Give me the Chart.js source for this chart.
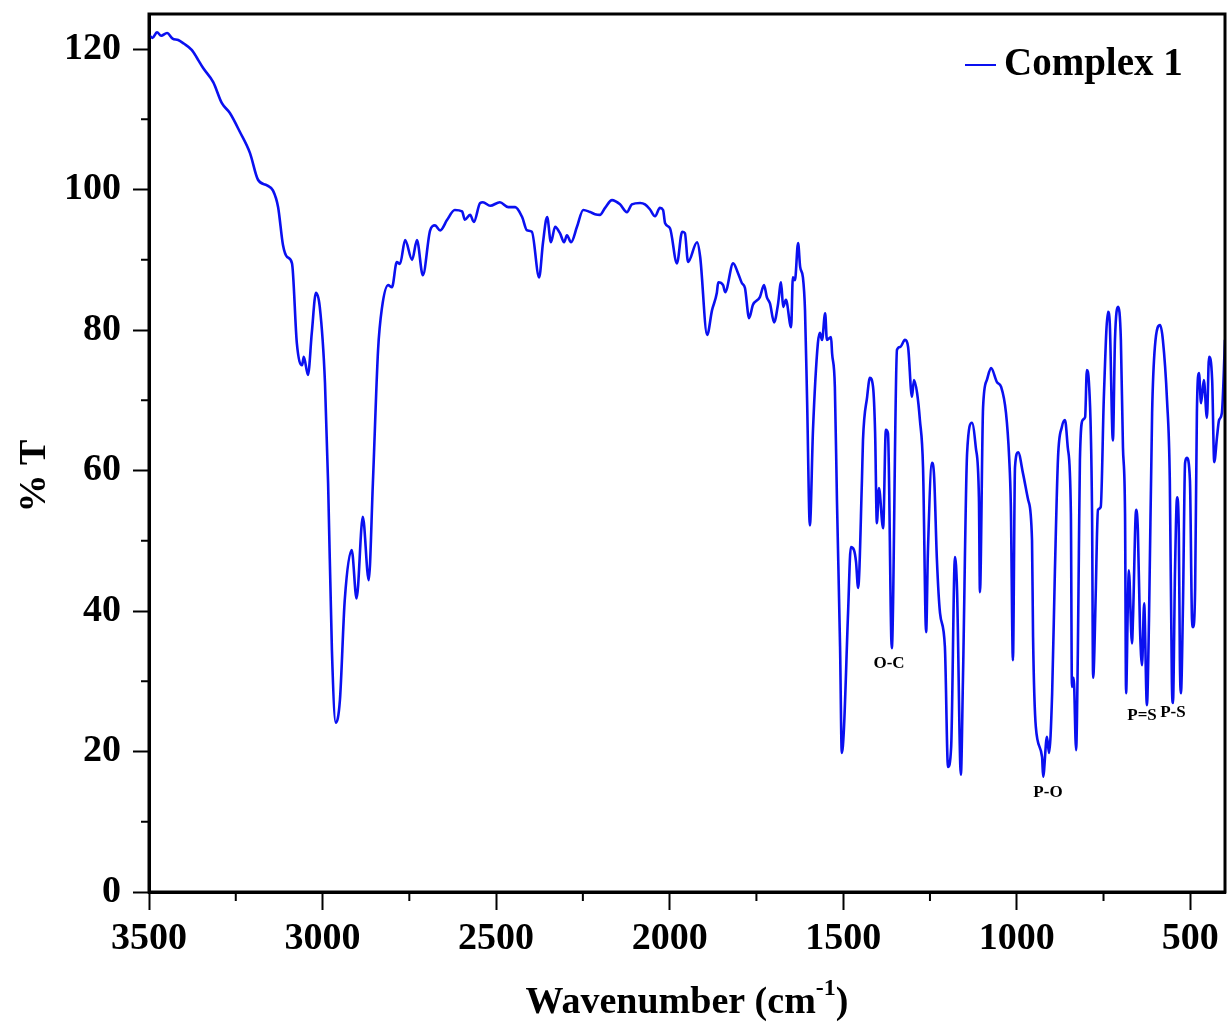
<!DOCTYPE html>
<html>
<head>
<meta charset="utf-8">
<script src="https://cdn.jsdelivr.net/npm/chart.js@4.4.0/dist/chart.umd.min.js"></script>
<style>
  html, body { margin: 0; padding: 0; background: #fff; }
</style>
</head>
<body>
<canvas id="ir" width="1228" height="1030"></canvas>
<script>
var seriesName = "Complex 1";

// wavenumber (cm-1) and %T
var wavenumber = [
  3500,3490,3477,3465,3448,3432,3416,3400,3377,3360,3344,3315,3290,3267,3238,3209,3186,3160,3143,3128,
  3114,3102,3088,3074,3059,3054,3042,3031,3019,3008,2993,2984,2973,2962,2950,2936,2916,2902,2884,2867,
  2855,2840,2829,2811,2800,2786,2777,2762,2742,2728,2711,2690,2676,2661,2641,2619,2598,2590,2575,2564,
  2546,2538,2517,2489,2465,2445,2425,2411,2397,2376,2365,2353,2342,2330,2316,2304,2296,2284,2267,2249,
  2229,2215,2201,2186,2166,2143,2123,2109,2085,2071,2057,2042,2028,2019,2013,1999,1979,1964,1956,1947,
  1921,1912,1892,1878,1864,1860,1846,1840,1817,1803,1792,1783,1771,1760,1740,1728,1720,1711,1699,1688,
  1679,1673,1665,1650,1645,1639,1630,1624,1616,1610,1604,1596,1587,1573,1567,1561,1552,1547,1535,1532,
  1524,1518,1509,1504,1498,1486,1478,1469,1463,1457,1446,1443,1431,1423,1414,1408,1403,1397,1385,1377,
  1371,1360,1345,1336,1322,1313,1302,1296,1287,1279,1270,1261,1256,1244,1238,1230,1221,1207,1198,1189,
  1178,1172,1161,1155,1143,1129,1118,1109,1106,1097,1086,1074,1057,1045,1031,1022,1017,1011,1005,996,
  982,967,956,953,945,927,924,913,907,898,890,881,870,861,853,844,841,836,829,824,
  821,818,810,803,798,792,783,780,772,769,766,758,749,737,732,723,717,708,700,694,
  688,685,680,677,668,665,656,651,645,639,633,625,619,610,602,587,579,567,559,553,
  550,544,538,533,530,527,521,515,510,501,495,492,486,481,475,469,461,452,446,437,
  431,423,417,409,400
];
var transmittance = [
  122.0,121.6,122.4,121.9,122.3,121.5,121.3,120.8,119.9,118.6,117.3,115.3,112.3,110.9,108.2,105.2,101.4,100.6,99.9,97.5,
  92.1,90.4,89.5,78.1,75.0,76.2,73.6,79.6,85.3,83.3,72.5,58.2,34.4,24.1,27.3,41.6,48.7,41.8,53.4,44.4,
  58.2,77.2,83.1,86.4,86.1,89.7,89.4,92.8,90.0,92.8,87.8,94.2,94.9,94.2,95.7,97.1,96.9,95.7,96.4,95.4,
  98.1,98.2,97.7,98.2,97.5,97.5,96.1,94.2,94.0,87.5,92.4,96.1,92.5,94.7,93.8,92.5,93.5,92.5,94.7,97.1,
  96.8,96.5,96.4,97.4,98.5,97.9,96.8,97.9,98.1,97.9,97.2,96.2,97.4,97.1,95.2,94.5,89.5,94.0,93.8,89.7,
  92.5,90.4,79.3,82.8,85.3,86.8,86.4,85.4,89.5,88.1,86.7,86.0,81.7,83.6,84.7,86.4,84.7,83.8,81.1,83.6,
  86.8,83.3,84.3,80.4,87.5,87.1,92.4,89.0,87.5,82.8,70.0,52.2,65.8,78.1,79.6,78.6,82.4,78.6,79.0,76.7,
  71.9,55.8,34.9,19.8,23.1,39.7,49.1,48.7,47.0,43.3,58.6,64.3,70.5,73.2,71.9,65.3,52.5,57.5,51.8,65.8,
  65.3,34.7,77.2,77.6,78.6,77.6,70.5,72.9,71.0,67.2,60.5,37.0,48.3,61.1,59.1,47.3,39.7,34.9,17.8,20.6,
  47.7,43.0,16.7,30.2,62.5,66.8,63.3,56.2,42.7,69.0,72.9,74.6,72.6,71.9,68.2,62.0,55.0,33.0,60.5,62.6,
  59.6,55.8,50.1,36.3,23.5,19.2,16.4,22.1,19.8,28.3,45.8,61.9,66.2,67.2,63.3,53.9,29.2,30.5,20.2,34.0,
  48.3,61.5,67.2,67.6,74.3,72.5,53.9,30.5,43.4,50.5,54.4,54.8,70.5,82.6,81.0,64.3,78.6,83.3,78.6,63.3,
  53.9,28.3,40.6,45.8,35.4,39.1,54.4,51.5,37.7,32.3,41.1,26.6,38.7,68.2,77.6,80.7,78.6,70.0,58.6,29.8,
  26.9,45.8,56.2,51.1,33.0,28.3,41.1,61.1,61.8,58.6,38.7,37.7,43.4,68.2,73.9,69.6,72.9,67.5,76.2,72.9,
  61.2,64.8,67.2,68.2,78.6
];

var xTicks = [3500, 3000, 2500, 2000, 1500, 1000, 500];
var xMinor = [3250, 2750, 2250, 1750, 1250, 750];
var yTicks = [0, 20, 40, 60, 80, 100, 120];
var yMinor = [10, 30, 50, 70, 90, 110];

// band assignments written on the plot
var peakLabels = ["O-C", "P-O", "P=S", "P-S"];
var peakWn = [1368, 910, 639, 550];
var peakT = [32.5, 14.1, 25.1, 25.6];

var points = wavenumber.map(function(w, i){ return {x: w, y: transmittance[i]}; });
var serif = "'Liberation Serif', 'Times New Roman', serif";
var lineBlue = '#0a10f0';

var frame = {
  id: 'frame',
  afterDraw: function(chart){
    var ctx = chart.ctx, a = chart.chartArea;
    var xs = chart.scales.x, ys = chart.scales.y;
    ctx.save();
    ctx.strokeStyle = '#000';
    ctx.lineWidth = 3;
    ctx.strokeRect(a.left, a.top, a.right - a.left, a.bottom - a.top);
    // minor ticks
    ctx.lineWidth = 2;
    ctx.beginPath();
    xMinor.forEach(function(v){
      var px = xs.getPixelForValue(v);
      ctx.moveTo(px, a.bottom); ctx.lineTo(px, a.bottom + 9);
    });
    yMinor.forEach(function(v){
      var py = ys.getPixelForValue(v);
      ctx.moveTo(a.left - 8, py); ctx.lineTo(a.left, py);
    });
    ctx.stroke();
    // peak labels
    ctx.fillStyle = '#000';
    ctx.font = "bold 17px " + serif;
    ctx.textAlign = 'center';
    ctx.textBaseline = 'middle';
    peakLabels.forEach(function(t, i){
      ctx.fillText(t, xs.getPixelForValue(peakWn[i]), ys.getPixelForValue(peakT[i]));
    });
    // legend
    ctx.strokeStyle = lineBlue;
    ctx.lineWidth = 2;
    ctx.beginPath();
    ctx.moveTo(965, 65); ctx.lineTo(996, 65);
    ctx.stroke();
    ctx.font = "bold 39px " + serif;
    ctx.textAlign = 'left';
    ctx.fillText(seriesName, 1004, 65);
    // x axis title with superscript
    var main = 'Wavenumber (cm', sup = '-1', close = ')';
    ctx.font = "bold 38px " + serif;
    var w1 = ctx.measureText(main).width, w3 = ctx.measureText(close).width;
    ctx.font = "bold 24px " + serif;
    var w2 = ctx.measureText(sup).width;
    var cx = (a.left + a.right) / 2, ty = 1003;
    var x0 = cx - (w1 + w2 + w3) / 2;
    ctx.font = "bold 38px " + serif;
    ctx.fillText(main, x0, ty);
    ctx.fillText(close, x0 + w1 + w2, ty);
    ctx.font = "bold 24px " + serif;
    ctx.fillText(sup, x0 + w1, ty - 14);
    // y axis title
    ctx.save();
    ctx.translate(35, 476);
    ctx.rotate(-Math.PI / 2);
    ctx.font = "bold 38px " + serif;
    ctx.textAlign = 'center';
    ctx.fillText('% T', 0, 0);
    ctx.restore();
    ctx.restore();
  }
};

new Chart(document.getElementById('ir'), {
  type: 'line',
  data: {
    datasets: [{
      label: seriesName,
      data: points,
      borderColor: lineBlue,
      backgroundColor: lineBlue,
      borderWidth: 2.6,
      pointRadius: 0,
      cubicInterpolationMode: 'monotone',
      fill: false
    }]
  },
  options: {
    responsive: false,
    animation: false,
    devicePixelRatio: 1,
    layout: { padding: { top: 14, right: 3, left: 0, bottom: 0 } },
    plugins: {
      tooltip: { enabled: false },
      legend: { display: false }
    },
    scales: {
      x: {
        type: 'linear',
        reverse: true,
        min: 400,
        max: 3500,
        afterBuildTicks: function(s){ s.ticks = xTicks.map(function(v){ return {value: v}; }); },
        afterFit: function(s){ s.height = 138; s.paddingLeft = 0; s.paddingRight = 0; },
        ticks: {
          color: '#000',
          font: { family: serif, size: 38, weight: 'bold' },
          padding: 6,
          maxRotation: 0,
          autoSkip: false,
          callback: function(v){ return String(v); }
        },
        grid: { drawOnChartArea: false, drawTicks: true, tickLength: 18, tickWidth: 2, tickColor: '#000' },
        border: { display: true, color: '#000', width: 3 }
      },
      y: {
        min: 0,
        max: 125,
        afterBuildTicks: function(s){ s.ticks = yTicks.map(function(v){ return {value: v}; }); },
        afterFit: function(s){ s.width = 149; s.paddingTop = 0; s.paddingBottom = 0; },
        ticks: {
          color: '#000',
          font: { family: serif, size: 38, weight: 'bold' },
          padding: 12,
          callback: function(v){ return String(v); }
        },
        grid: { drawOnChartArea: false, drawTicks: true, tickLength: 16, tickWidth: 2, tickColor: '#000' },
        border: { display: true, color: '#000', width: 3 }
      }
    }
  },
  plugins: [frame]
});
</script>
</body>
</html>
